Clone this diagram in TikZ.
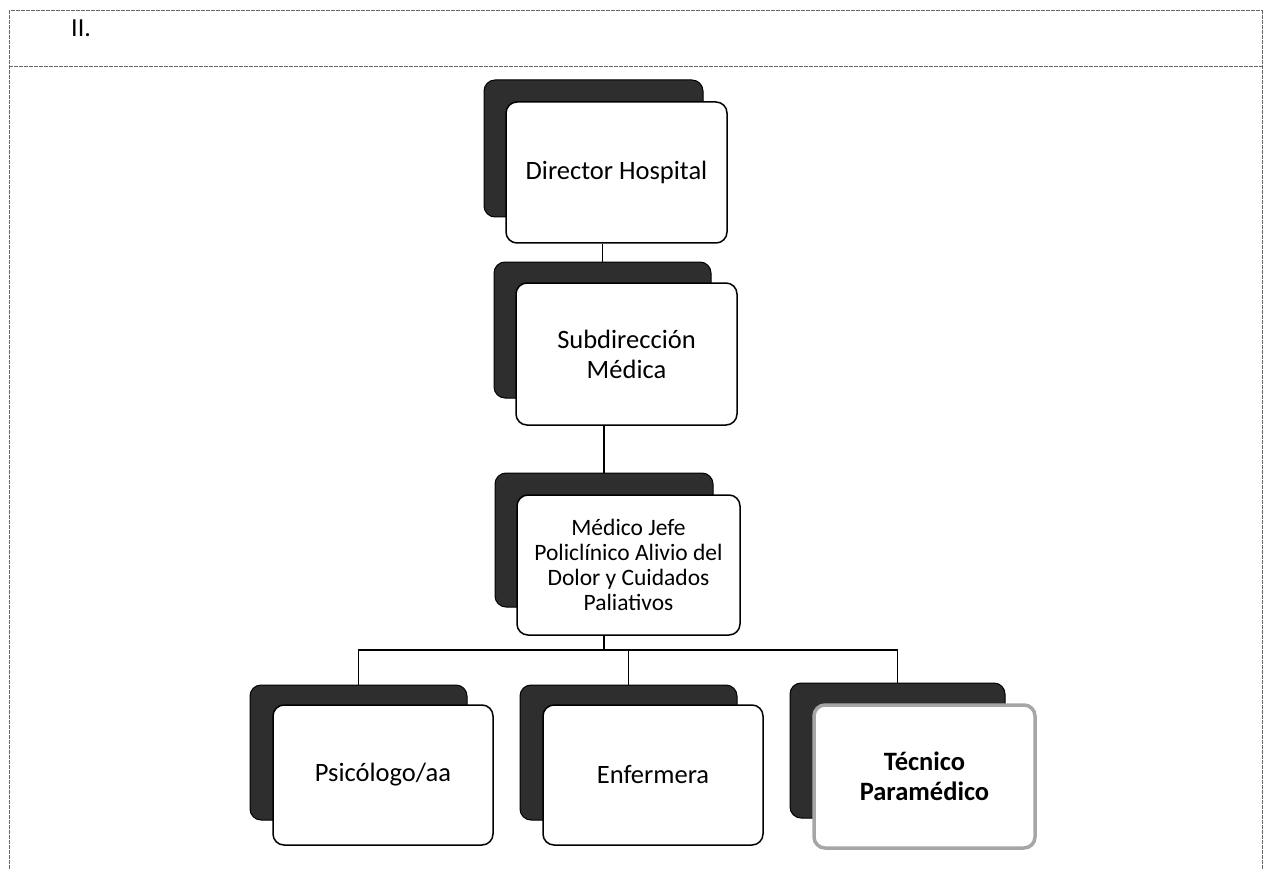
\documentclass[tikz,border=0pt]{standalone}
\usepackage{fontspec}
\setmainfont{Carlito}
\begin{document}
\begin{tikzpicture}[x=1pt,y=-1pt,
  backbox/.style={draw=black, fill=black!82, rounded corners=11pt, inner sep=0pt, line width=1pt},
  frontbox/.style={draw=black, fill=white, rounded corners=11pt, inner sep=0pt, line width=1.5pt, align=center},
  grayfront/.style={draw=black!35, fill=white, rounded corners=11pt, inner sep=0pt, line width=3.5pt, align=center},
  conn/.style={draw=black, line width=1.5pt},
  frame/.style={draw=black!60, line width=1pt, dash pattern=on 4pt off 1pt},
  bigtxt/.style={font=\fontsize{26.5}{30}\selectfont},
  medtxt/.style={font=\fontsize{23.5}{25}\selectfont}
]
\useasboundingbox (0,0) rectangle (1269,869);
% frame
\coordinate (ftl) at (9,11);
\coordinate (ftr) at (1262,11);
\coordinate (fbl) at (9,869);
\coordinate (fbr) at (1262,869);
\coordinate (sl) at (9,67);
\coordinate (sr) at (1262,67);
\draw[frame] (fbl) -- (ftl) -- (ftr) -- (fbr);
\draw[frame] (sl) -- (sr);
\node[anchor=west, font=\fontsize{26}{28}\selectfont, inner sep=0pt] (hdr) at (71,28) {II.};

% Director
\node[backbox, minimum width=219, minimum height=137] (dirB) at (593.5,148.5) {};
\node[frontbox, bigtxt, minimum width=221, minimum height=141] (dirF) at (616.5,172.5) {Director Hospital};
% Subdireccion
\node[backbox, minimum width=217, minimum height=136] (subB) at (602.5,330) {};
\node[frontbox, bigtxt, minimum width=221, minimum height=142] (subF) at (626.5,354) {Subdirección\\Médica};
% Medico jefe
\node[backbox, minimum width=218, minimum height=134] (medB) at (604,540) {};
\node[frontbox, medtxt, minimum width=223, minimum height=140] (medF) at (628.5,565) {Médico Jefe\\Policlínico Alivio del\\Dolor y Cuidados\\Paliativos};
% children
\node[backbox, minimum width=217, minimum height=135] (psyB) at (358.5,752.5) {};
\node[frontbox, bigtxt, minimum width=220, minimum height=140] (psyF) at (383,775) {Psicólogo/aa};
\node[backbox, minimum width=217, minimum height=135] (enfB) at (628.5,752.5) {};
\node[frontbox, bigtxt, minimum width=220, minimum height=140] (enfF) at (653,775) {Enfermera};
\node[backbox, minimum width=215, minimum height=135] (tecB) at (897.5,750.5) {};
\node[grayfront, bigtxt, minimum width=221, minimum height=143] (tecF) at (924.5,776.5) {\bfseries Técnico\\\bfseries Paramédico};

% connectors
\coordinate (bus) at (0,650);
\draw[conn] (dirF.south -| subB.north) -- (subB.north);
\draw[conn] (subF.south -| medB.north) -- (medB.north);
\draw[conn] (medF.south -| medB.north) -- (medB.north |- bus);
\draw[conn] (psyB.north) -- (psyB.north |- bus) -- (tecB.north |- bus) -- (tecB.north);
\draw[conn] (enfB.north) -- (enfB.north |- bus);
\end{tikzpicture}
\end{document}
